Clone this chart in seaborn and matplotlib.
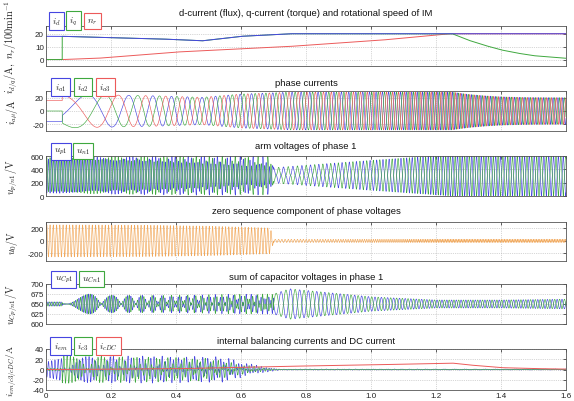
import numpy as np
import pandas as pd
import matplotlib
matplotlib.use("Agg")
import matplotlib.pyplot as plt
import seaborn as sns

# ---------------- data ----------------
x_ticks = [0, 0.2, 0.4, 0.6, 0.8, 1.0, 1.2, 1.4, 1.6]
x_tick_labels = ["0", "0.2", "0.4", "0.6", "0.8", "1.0", "1.2", "1.4", "1.6"]

# panel 1: d/q current (A) and speed (100/min)
id_t = [0, 0.05, 0.2, 0.35, 0.48, 0.6, 0.75, 1.25, 1.6]
id_vals = [18, 18, 17, 16, 14.5, 18, 20, 20, 20]
iq_t = [0, 0.0499, 0.05, 0.2, 0.35, 0.48, 0.6, 0.75, 1.25, 1.3, 1.35, 1.4, 1.45, 1.5, 1.6]
iq_vals = [0, 0, 18, 17, 16, 14.5, 18, 20, 20, 15, 11, 7.5, 5, 3, 1]
nr_t = [0, 0.05, 0.16, 0.4, 0.74, 1.03, 1.24, 1.6]
nr_vals = [0, 0, 1, 5.8, 10, 15, 20, 20]

# electrical (stator) frequency of the motor, Hz
f_el_t = [0, 0.0499, 0.05, 0.1, 0.2, 0.4, 0.7, 1.0, 1.25, 1.6]
f_el_vals = [0, 0, 2.5, 4, 8, 20, 32, 49, 69, 67]
field_angle0 = -np.pi / 6
f_zero_seq = 100.0          # frequency of injected zero-sequence voltage, Hz
t_switch = 0.7              # end of low-speed mode

# panel 3: phase-voltage amplitude (V), DC midpoint (V)
vph_t = [0, 0.05, 0.3, 0.5, 0.7, 1.0, 1.25, 1.6]
vph_vals = [10, 15, 40, 65, 90, 200, 285, 285]
u_mid = 310

# panel 4: zero-sequence amplitude (V)
u0_t = [0, 0.3, 0.5, 0.69, 0.7, 1.6]
u0_vals = [255, 250, 235, 205, 25, 25]

# panel 5: capacitor-voltage ripple amplitudes (V)
uc_mean = 650
uc_hf_t = [0, 0.05, 0.1, 0.15, 0.2, 0.4, 0.6, 0.7]
uc_hf_vals = [6, 6, 20, 28, 22, 22, 25, 25]
uc_lf_t = [0.7, 0.75, 0.85, 1.0, 1.2, 1.4, 1.6]
uc_lf_vals = [25, 38, 30, 18, 10, 10, 12]

# panel 6: balancing currents (A)
iem_t = [0, 0.05, 0.3, 0.55, 0.62, 0.68, 0.72, 1.6]
iem_vals = [17, 25, 27, 25, 12, 5, 1, 1]
ic3_t = [0, 0.049, 0.05, 0.3, 0.5, 0.6, 0.68, 0.72, 1.6]
ic3_vals = [5, 5, 27, 25, 22, 10, 3, 0.5, 0.5]
icdc_t = [0, 0.05, 0.4, 0.72, 1.0, 1.25, 1.3, 1.4, 1.5, 1.6]
icdc_vals = [0, 0, 1.5, 6, 9, 12.5, 9, 3.6, 1.8, 0.8]

# ---------------- build signals ----------------
N = 16001
t = np.linspace(0, 1.6, N)
dt = t[1] - t[0]
i_d = np.interp(t, id_t, id_vals)
i_q = np.interp(t, iq_t, iq_vals)
n_r = np.interp(t, nr_t, nr_vals)
f_el = np.interp(t, f_el_t, f_el_vals)
theta_f = field_angle0 + 2 * np.pi * np.cumsum(f_el) * dt
amp_i = np.hypot(i_d, i_q)
theta_i = theta_f + np.arctan2(i_q, i_d)
i_a3 = amp_i * np.cos(theta_i)
i_a1 = amp_i * np.cos(theta_i - 2 * np.pi / 3)
i_a2 = amp_i * np.cos(theta_i - 4 * np.pi / 3)
m1 = i_a1 / amp_i
m23 = (i_a2 - i_a3) / (np.sqrt(3) * amp_i)

theta_v = theta_i + np.pi / 6
w0t = 2 * np.pi * f_zero_seq * t
low = t < t_switch
u0 = np.where(low, np.interp(t, u0_t, u0_vals) * np.sin(w0t),
              np.interp(t, u0_t, u0_vals) * np.cos(3 * theta_v))
v_ph = np.interp(t, vph_t, vph_vals) * np.cos(theta_v)
u_p1 = u_mid - v_ph - u0
u_n1 = u_mid + v_ph + u0

ripple = np.where(low, np.interp(t, uc_hf_t, uc_hf_vals) * m1 * np.sin(w0t + np.pi / 4),
                  np.interp(t, uc_lf_t, uc_lf_vals) * np.sin(theta_v))
u_Cp1 = uc_mean + ripple
u_Cn1 = uc_mean - ripple

i_em = np.interp(t, iem_t, iem_vals) * m1 * np.sin(w0t)
i_c3 = np.interp(t, ic3_t, ic3_vals) * m23 * np.cos(w0t)
i_cdc = np.interp(t, icdc_t, icdc_vals)

# ---------------- style ----------------
sns.set_theme(style="white")
plt.rcParams["font.family"] = ["Liberation Sans", "DejaVu Sans"]
plt.rcParams["mathtext.fontset"] = "cm"

BLUE = "#4646e0"
GREEN = "#3fa83f"
RED = "#ec5a5a"
ORANGE = "#f2a85a"

W, H = 574, 402
fig = plt.figure(figsize=(W / 100, H / 100), dpi=100)

# (top_px, bottom_px) of each axes
rows = [(27, 67), (92, 132), (157, 197), (223, 262), (285, 325), (350, 391)]
left_px, right_px = 46, 566
axes = []
for top, bot in rows:
    ax = fig.add_axes([left_px / W, (H - bot) / H, (right_px - left_px) / W, (bot - top) / H])
    axes.append(ax)

titles = ["d-current (flux), q-current (torque) and rotational speed of IM",
          "phase currents", "arm voltages of phase 1",
          "zero sequence component of phase voltages",
          "sum of capacitor voltages in phase 1",
          "internal balancing currents and DC current"]
title_pads = [8.0, 4.0, 6.0, 6.5, 3.5, 4.0]
ylabels = [r"$i_{d/q}/\mathrm{A},\ n_r/100\mathrm{min}^{-1}$", r"$i_{a\mu}/\mathrm{A}$",
           r"$u_{p/n1}/\mathrm{V}$", r"$u_0/\mathrm{V}$", r"$u_{Cp/n1}/\mathrm{V}$",
           r"$i_{em/c3/cDC}/\mathrm{A}$"]
ylabel_sizes = [7.4, 7.2, 7.2, 7.2, 7.2, 6.8]
ylims = [(-5, 26), (-30, 30), (0, 600), (-320, 300), (600, 700), (-40, 40)]
yticks = [[0, 10, 20], [-20, 0, 20], [0, 200, 400, 600], [-200, 0, 200],
          [600, 625, 650, 675, 700], [-40, -20, 0, 20, 40]]

series = [
    [(n_r, RED, 0.7), (i_q, GREEN, 0.7), (i_d, BLUE, 0.7)],
    [(i_a1, BLUE, 0.45), (i_a2, GREEN, 0.45), (i_a3, RED, 0.45)],
    [(u_p1, BLUE, 0.45), (u_n1, GREEN, 0.45)],
    [(u0, ORANGE, 0.45)],
    [(u_Cp1, BLUE, 0.45), (u_Cn1, GREEN, 0.45)],
    [(i_em, BLUE, 0.45), (i_c3, GREEN, 0.45), (i_cdc, RED, 0.7)],
]
legends = [
    [(r"$i_d$", BLUE), (r"$i_q$", GREEN), (r"$n_r$", RED)],
    [(r"$i_{a1}$", BLUE), (r"$i_{a2}$", GREEN), (r"$i_{a3}$", RED)],
    [(r"$u_{p1}$", BLUE), (r"$u_{n1}$", GREEN)],
    [],
    [(r"$u_{Cp1}$", BLUE), (r"$u_{Cn1}$", GREEN)],
    [(r"$i_{em}$", BLUE), (r"$i_{c3}$", GREEN), (r"$i_{cDC}$", RED)],
]
legend_x = [
    [0.020, 0.053, 0.089],
    [0.028, 0.071, 0.114],
    [0.028, 0.071],
    [],
    [0.034, 0.088],
    [0.028, 0.071, 0.120],
]
legend_y = [1.13, 1.10, 1.12, 1.1, 1.12, 1.07]

for k, ax in enumerate(axes):
    for sig, col, lw in series[k]:
        sns.lineplot(x=t, y=sig, ax=ax, color=col, linewidth=lw,
                     estimator=None, sort=False, errorbar=None)
    ax.set_xlim(0, 1.6)
    ax.set_ylim(*ylims[k])
    ax.set_xticks(x_ticks)
    ax.set_yticks(yticks[k])
    ax.set_yticklabels([str(v) for v in yticks[k]])
    if k == len(axes) - 1:
        ax.set_xticklabels(x_tick_labels)
    else:
        ax.set_xticklabels([])
    ax.tick_params(direction="in", length=2.2, width=0.5, top=True, right=True,
                   labelsize=5.8, pad=1.5, colors="#222222")
    ax.grid(True, linestyle=":", linewidth=0.5, color="#b0b0b0")
    for sp in ax.spines.values():
        sp.set_linewidth(0.6)
        sp.set_color("#555555")
    ax.set_title(titles[k], fontsize=6.8, pad=title_pads[k], color="#111111")
    ax.set_ylabel(ylabels[k], fontsize=ylabel_sizes[k], color="#222222")
    ax.yaxis.set_label_coords(-0.05, 0.5)
    ax.set_xlabel("")
    for (lab, col), lx in zip(legends[k], legend_x[k]):
        ax.text(lx, legend_y[k], lab, transform=ax.transAxes, ha="center", va="center",
                fontsize=6.8, zorder=10, clip_on=False,
                bbox=dict(boxstyle="square,pad=0.35", fc="white", ec=col, lw=0.8))

fig.savefig("out.png", dpi=100)
